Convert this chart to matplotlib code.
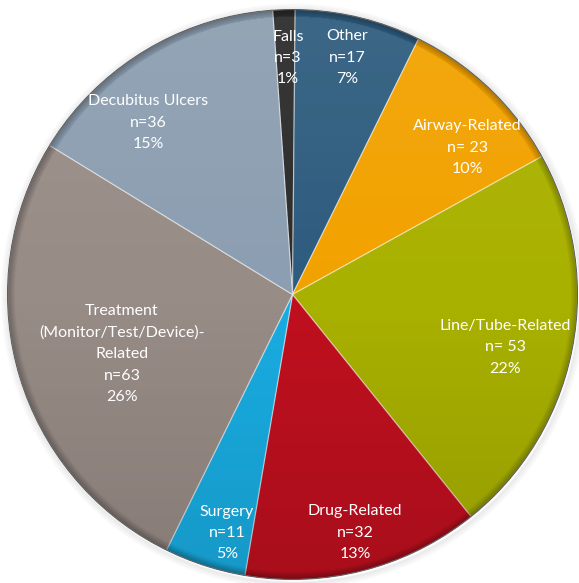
import numpy as np
import matplotlib
matplotlib.use("Agg")
import matplotlib.pyplot as plt
from matplotlib.patches import Circle

# slices, clockwise from the top
labels = ["Falls", "Other", "Airway-Related", "Line/Tube-Related", "Drug-Related",
          "Surgery", "Treatment\n(Monitor/Test/Device)-\nRelated", "Decubitus Ulcers"]
counts = [3, 17, 23, 53, 32, 11, 63, 36]
pcts = ["1%", "7%", "10%", "22%", "13%", "5%", "26%", "15%"]
n_text = ["n=3", "n=17", "n= 23", "n= 53", "n=32", "n=11", "n=63", "n=36"]

colors = ["#2b2b2b", "#2e5c7e", "#f2a200", "#a9b100", "#c0101f",
          "#19ade2", "#988c86", "#8c9eb1"]
# label placement: (radius fraction, angle in degrees)
label_pos = [(0.83, 91.1), (0.852, 77.0), (0.80, 40.0), (0.768, -13.9),
             (0.865, -75.3), (0.868, -105.4), (0.634, 199.2), (0.787, 130.1)]

W, H = 579, 583
R_PX = 285
CX, CY = 292.5, 294.5  # pie centre, pixels from top-left

fig = plt.figure(figsize=(W / 100, H / 100), dpi=100)
ax = fig.add_axes([0, 0, 1, 1])

# faint drop shadow outside the rim
for k in range(6):
    ax.add_patch(Circle((0.004, -0.006), 1.0 + 0.004 * (k + 1), facecolor="none",
                        edgecolor=(0, 0, 0, 0.06 - 0.009 * k), linewidth=1.2, zorder=0))

wedges, _ = ax.pie(counts, colors=colors, startangle=94, counterclock=False,
                   radius=1.0, wedgeprops=dict(edgecolor=(1, 1, 1, 0.45), linewidth=0.9))

# top-to-bottom light gradient plus a thin darker band at the rim
res = 600
g = np.linspace(-1, 1, res)
xx, yy = np.meshgrid(g, g)
rr = np.sqrt(xx ** 2 + yy ** 2)
shade = np.zeros((res, res, 4))
top = yy > 0
shade[top, :3] = 1.0
alpha = np.where(top, 0.07 * yy, -0.12 * yy)
alpha = alpha + np.clip((rr - 0.975) / 0.025, 0, 1) * 0.25
shade[..., 3] = np.clip(alpha, 0, 1)
rim = rr > 0.975
shade[rim, :3] = 0.0
im = ax.imshow(shade, extent=(-1, 1, -1, 1), origin="lower", zorder=3)
im.set_clip_path(Circle((0, 0), 1.0, transform=ax.transData))
ax.add_patch(Circle((0, 0), 1.0, fill=False, edgecolor="#5a5a5a", linewidth=0.7, zorder=4))

ax.set_xlim(-CX / R_PX, (W - CX) / R_PX)
ax.set_ylim(-(H - CY) / R_PX, CY / R_PX)
ax.axis("off")

for (r, ang), lab, nt, pc in zip(label_pos, labels, n_text, pcts):
    a = np.deg2rad(ang)
    ax.text(r * np.cos(a), r * np.sin(a), f"{lab}\n{nt}\n{pc}", ha="center", va="center",
            color="white", fontsize=11.5, family="Lato", linespacing=1.68, zorder=5)

fig.savefig("out.png", dpi=100)
